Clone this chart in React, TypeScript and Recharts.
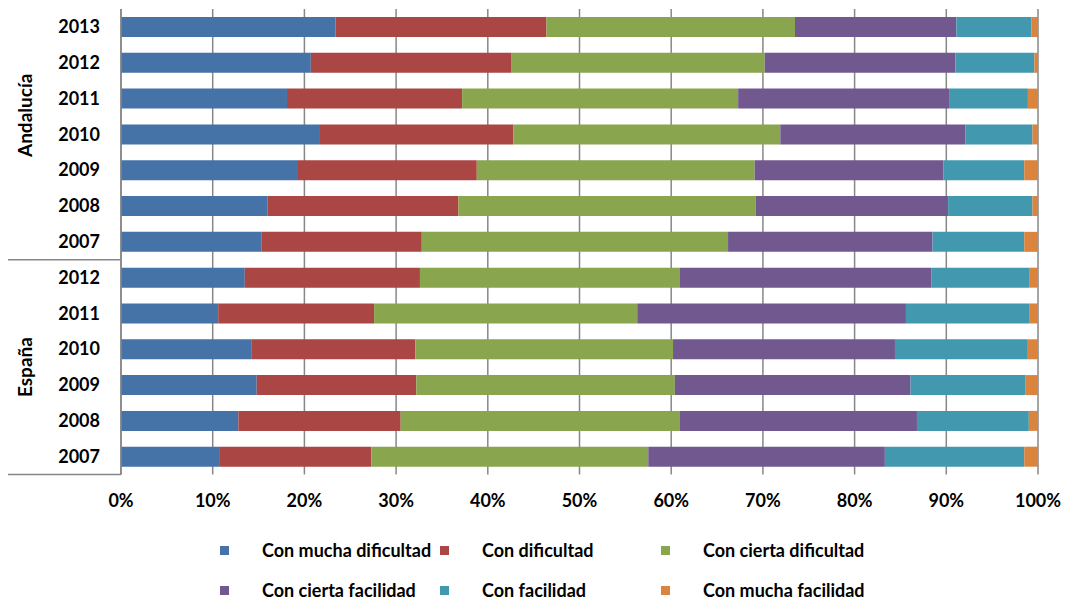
import React from 'react';
import { BarChart, Bar, XAxis, YAxis, CartesianGrid, Legend } from 'recharts';

const groupNames = ['Andalucía', 'España'];
const categoryGroups = [0, 0, 0, 0, 0, 0, 0, 1, 1, 1, 1, 1, 1];
const years = ['2013', '2012', '2011', '2010', '2009', '2008', '2007', '2012', '2011', '2010', '2009', '2008', '2007'];

const conMuchaDificultad = [23.4, 20.7, 18.1, 21.6, 19.2, 16.0, 15.3, 13.5, 10.6, 14.2, 14.8, 12.8, 10.7];
const conDificultad = [23.0, 21.9, 19.1, 21.2, 19.6, 20.8, 17.5, 19.1, 17.0, 17.9, 17.4, 17.7, 16.6];
const conCiertaDificultad = [27.1, 27.6, 30.1, 29.1, 30.3, 32.4, 33.4, 28.3, 28.7, 28.1, 28.2, 30.4, 30.2];
const conCiertaFacilidad = [17.6, 20.8, 23.0, 20.2, 20.6, 21.0, 22.3, 27.5, 29.3, 24.2, 25.7, 25.9, 25.8];
const conFacilidad = [8.2, 8.6, 8.6, 7.3, 8.8, 9.2, 10.0, 10.7, 13.5, 14.4, 12.5, 12.2, 15.2];
const conMuchaFacilidad = [0.7, 0.4, 1.1, 0.6, 1.5, 0.6, 1.5, 0.9, 0.9, 1.2, 1.4, 1.0, 1.5];

const seriesNames = ['Con mucha dificultad', 'Con dificultad', 'Con cierta dificultad', 'Con cierta facilidad', 'Con facilidad', 'Con mucha facilidad'];
const seriesValues = [conMuchaDificultad, conDificultad, conCiertaDificultad, conCiertaFacilidad, conFacilidad, conMuchaFacilidad];
const seriesColors = ['#4572A7', '#AA4643', '#89A54E', '#71588F', '#4198AF', '#DB843D'];

const xTicks = [0, 0.1, 0.2, 0.3, 0.4, 0.5, 0.6, 0.7, 0.8, 0.9, 1];

const data = years.map((year, i) => {
  const row: Record<string, any> = { key: `${groupNames[categoryGroups[i]]}-${year}-${i}`, year, idx: i };
  seriesValues.forEach((vals, s) => {
    row[`s${s}`] = vals[i];
  });
  return row;
});

const FONT = 'Lato, "Noto Sans", sans-serif';
const GRAY = '#878787';
const PLOT_TOP = 9;
const PLOT_BOTTOM = 474.5;
const BAND = (PLOT_BOTTOM - PLOT_TOP) / years.length;

const YTick = (props: any) => {
  const { y, index } = props;
  const i = index;
  const elems: React.ReactNode[] = [];
  elems.push(
    <text key="t" x={100} y={y} dy="0.35em" textAnchor="end" fontFamily={FONT} fontWeight={700} fontSize={18} fill="#000">
      {years[i]}
    </text>
  );
  const isLastOfGroup = i === years.length - 1 || categoryGroups[i + 1] !== categoryGroups[i];
  if (isLastOfGroup) {
    elems.push(<line key="l" x1={8} x2={121} y1={y + BAND / 2} y2={y + BAND / 2} stroke={GRAY} strokeWidth={1.5} />);
  }
  if (i === 3) {
    const gy = y - 19;
    elems.push(
      <text key="g" x={25} y={gy} transform={`rotate(-90 25 ${gy})`} dy="0.35em" textAnchor="middle" fontFamily={FONT} fontWeight={700} fontSize={19} fill="#000">
        {groupNames[0]}
      </text>
    );
  }
  if (i === 9) {
    const gy = y + BAND / 2;
    elems.push(
      <text key="g" x={25} y={gy} transform={`rotate(-90 25 ${gy})`} dy="0.35em" textAnchor="middle" fontFamily={FONT} fontWeight={700} fontSize={19} fill="#000">
        {groupNames[1]}
      </text>
    );
  }
  return <g>{elems}</g>;
};

const legendSquareX = [220, 440, 661];
const legendTextX = [262, 482, 703];
const legendRowY = [550, 590];

const renderLegend = (props: any) => {
  const payload = [...(props.payload || [])].sort(
    (a: any, b: any) => seriesNames.indexOf(a.value) - seriesNames.indexOf(b.value)
  );
  return (
    <div style={{ position: 'relative', width: 1066, height: 1 }}>
      {payload.map((entry: any, i: number) => {
        const col = i % 3;
        const row = Math.floor(i / 3);
        const cy = legendRowY[row] - 530;
        return (
          <div key={i}>
            <div style={{ position: 'absolute', left: legendSquareX[col], top: cy - 4.5, width: 9, height: 9, background: entry.color }} />
            <div style={{ position: 'absolute', left: legendTextX[col], top: cy - 12, height: 24, lineHeight: '24px', fontFamily: FONT, fontWeight: 700, fontSize: 18, color: '#000', whiteSpace: 'nowrap' }}>
              {entry.value}
            </div>
          </div>
        );
      })}
    </div>
  );
};

export default function App() {
  return (
    <div style={{ position: 'absolute', left: 0, top: 0, width: 1066, height: 601, background: '#fff' }}>
      <BarChart
        width={1066}
        height={601}
        data={data}
        layout="vertical"
        stackOffset="expand"
        barSize={20}
        margin={{ top: PLOT_TOP, right: 28, left: 0, bottom: 601 - PLOT_BOTTOM - 30 - 1 }}
      >
        <CartesianGrid horizontal={false} vertical={true} stroke={GRAY} strokeWidth={1.5} verticalValues={xTicks} />
        <XAxis
          type="number"
          domain={[0, 1]}
          ticks={xTicks}
          height={30}
          axisLine={false}
          tickLine={false}
          tickMargin={14}
          tickFormatter={(v: number) => `${Math.round(v * 100)}%`}
          tick={{ fontFamily: FONT, fontWeight: 700, fontSize: 18, fill: '#000' }}
          interval={0}
        />
        <YAxis
          type="category"
          dataKey="key"
          width={121}
          axisLine={{ stroke: GRAY, strokeWidth: 1.5 }}
          tickLine={false}
          tick={<YTick />}
          interval={0}
        />
        {seriesNames.map((name, s) => (
          <Bar key={name} dataKey={`s${s}`} name={name} stackId="a" fill={seriesColors[s]} isAnimationActive={false} />
        ))}
        <Legend
          verticalAlign="bottom"
          content={renderLegend}
          wrapperStyle={{ position: 'absolute', left: 0, top: 530, width: 1066, height: 1 }}
        />
      </BarChart>
    </div>
  );
}
